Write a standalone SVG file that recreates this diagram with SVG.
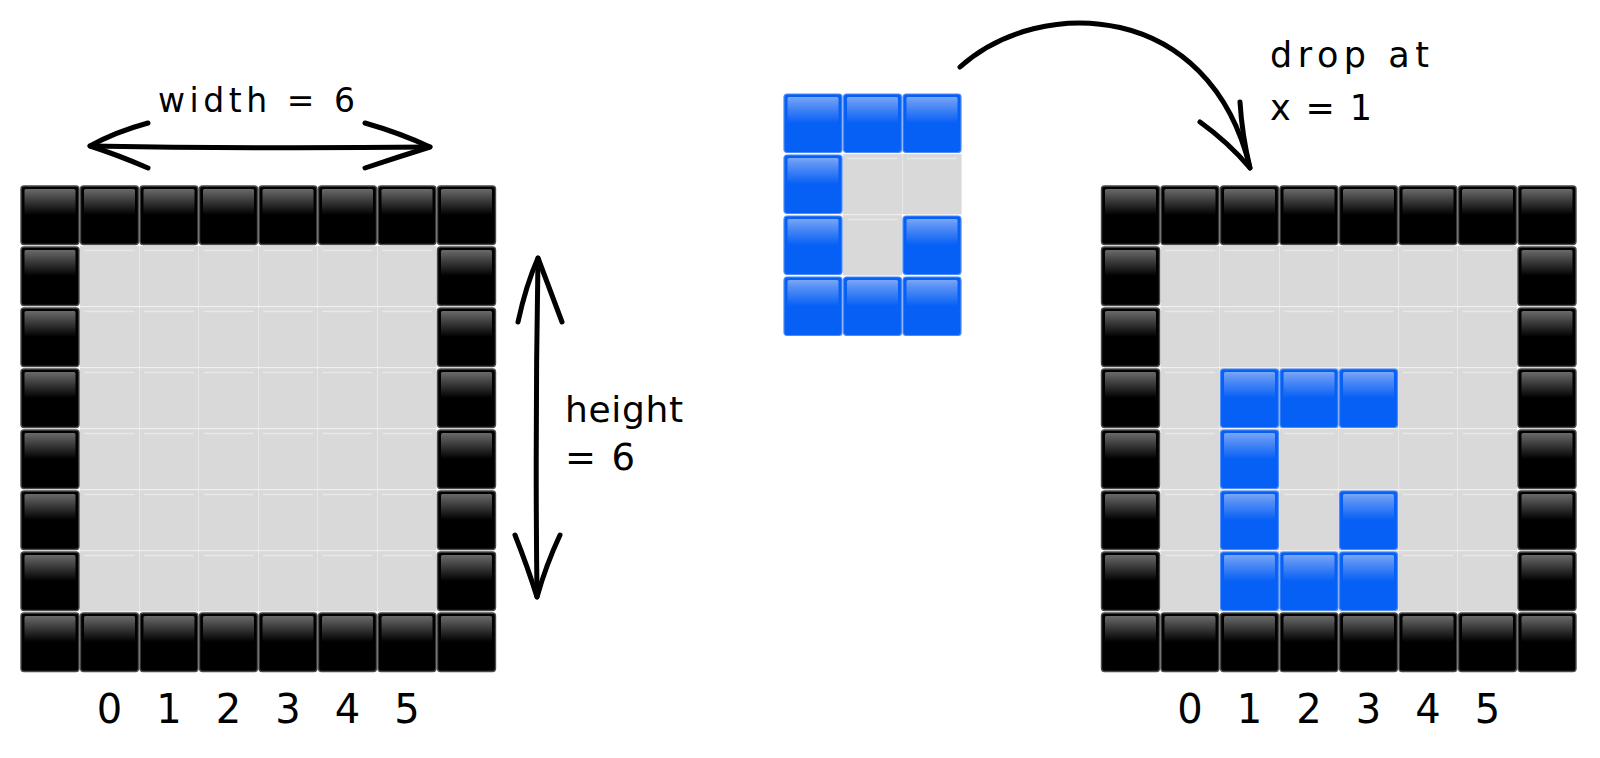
<svg xmlns="http://www.w3.org/2000/svg" xmlns:xlink="http://www.w3.org/1999/xlink" width="1600" height="758" viewBox="0 0 1600 758">
<style>
.lbl{font-family:"DejaVu Sans","Liberation Sans",sans-serif;fill:#000;}
.dig{font-family:"DejaVu Sans","Liberation Sans",sans-serif;font-size:40px;fill:#000;text-anchor:middle;}
.arr{fill:none;stroke:#000;stroke-width:5;stroke-linecap:round;stroke-linejoin:round;}
</style>
<defs>
<linearGradient id="gk" x1="0" y1="0" x2="0" y2="1">
<stop offset="0" stop-color="#6a6a6a"/><stop offset="0.2" stop-color="#555"/><stop offset="1" stop-color="#000"/>
</linearGradient>
<linearGradient id="gb" x1="0" y1="0" x2="0" y2="1">
<stop offset="0" stop-color="#7aa8f7"/><stop offset="0.2" stop-color="#5f95f6"/><stop offset="1" stop-color="#0760f5"/>
</linearGradient>
<g id="k">
<rect x="0" y="0" width="58" height="58.5" rx="3" fill="#000" stroke="#4a4a4a" stroke-width="1.4"/>
<rect x="3.5" y="3" width="51" height="26" rx="1.5" fill="url(#gk)"/>
</g>
<g id="b">
<rect x="0" y="0" width="58" height="58.5" rx="3" fill="#0760f5" stroke="#4d8cf7" stroke-width="1.2"/>
<rect x="3.5" y="3" width="51" height="26" rx="1.5" fill="url(#gb)"/>
</g>
<g id="g">
<rect x="-0.6" y="-0.9" width="59.2" height="60.3" fill="#d9d9d9"/>
<line x1="4" y1="3.5" x2="54" y2="3.5" stroke="#e8e8e8" stroke-width="1.5"/>
</g>
</defs>
<rect width="1600" height="758" fill="#fff"/>

<g id="left-grid">
<g id="left-floor">
<use href="#g" x="80.5" y="247"/><use href="#g" x="140" y="247"/><use href="#g" x="199.5" y="247"/><use href="#g" x="259" y="247"/><use href="#g" x="318.5" y="247"/><use href="#g" x="378" y="247"/>
<use href="#g" x="80.5" y="308"/><use href="#g" x="140" y="308"/><use href="#g" x="199.5" y="308"/><use href="#g" x="259" y="308"/><use href="#g" x="318.5" y="308"/><use href="#g" x="378" y="308"/>
<use href="#g" x="80.5" y="369"/><use href="#g" x="140" y="369"/><use href="#g" x="199.5" y="369"/><use href="#g" x="259" y="369"/><use href="#g" x="318.5" y="369"/><use href="#g" x="378" y="369"/>
<use href="#g" x="80.5" y="430"/><use href="#g" x="140" y="430"/><use href="#g" x="199.5" y="430"/><use href="#g" x="259" y="430"/><use href="#g" x="318.5" y="430"/><use href="#g" x="378" y="430"/>
<use href="#g" x="80.5" y="491"/><use href="#g" x="140" y="491"/><use href="#g" x="199.5" y="491"/><use href="#g" x="259" y="491"/><use href="#g" x="318.5" y="491"/><use href="#g" x="378" y="491"/>
<use href="#g" x="80.5" y="552"/><use href="#g" x="140" y="552"/><use href="#g" x="199.5" y="552"/><use href="#g" x="259" y="552"/><use href="#g" x="318.5" y="552"/><use href="#g" x="378" y="552"/>
</g>
<g id="left-walls">
<use href="#k" x="21" y="186"/><use href="#k" x="80.5" y="186"/><use href="#k" x="140" y="186"/><use href="#k" x="199.5" y="186"/><use href="#k" x="259" y="186"/><use href="#k" x="318.5" y="186"/><use href="#k" x="378" y="186"/><use href="#k" x="437.5" y="186"/>
<use href="#k" x="21" y="247"/><use href="#k" x="437.5" y="247"/>
<use href="#k" x="21" y="308"/><use href="#k" x="437.5" y="308"/>
<use href="#k" x="21" y="369"/><use href="#k" x="437.5" y="369"/>
<use href="#k" x="21" y="430"/><use href="#k" x="437.5" y="430"/>
<use href="#k" x="21" y="491"/><use href="#k" x="437.5" y="491"/>
<use href="#k" x="21" y="552"/><use href="#k" x="437.5" y="552"/>
<use href="#k" x="21" y="613"/><use href="#k" x="80.5" y="613"/><use href="#k" x="140" y="613"/><use href="#k" x="199.5" y="613"/><use href="#k" x="259" y="613"/><use href="#k" x="318.5" y="613"/><use href="#k" x="378" y="613"/><use href="#k" x="437.5" y="613"/>
</g>
</g>

<g id="piece">
<use href="#g" x="843.5" y="155"/><use href="#g" x="903" y="155"/><use href="#g" x="843.5" y="216"/>
<use href="#b" x="784" y="94"/><use href="#b" x="843.5" y="94"/><use href="#b" x="903" y="94"/>
<use href="#b" x="784" y="155"/>
<use href="#b" x="784" y="216"/><use href="#b" x="903" y="216"/>
<use href="#b" x="784" y="277"/><use href="#b" x="843.5" y="277"/><use href="#b" x="903" y="277"/>
</g>

<g id="right-grid">
<g id="right-floor">
<use href="#g" x="1161" y="247"/><use href="#g" x="1220.5" y="247"/><use href="#g" x="1280" y="247"/><use href="#g" x="1339.5" y="247"/><use href="#g" x="1399" y="247"/><use href="#g" x="1458.5" y="247"/>
<use href="#g" x="1161" y="308"/><use href="#g" x="1220.5" y="308"/><use href="#g" x="1280" y="308"/><use href="#g" x="1339.5" y="308"/><use href="#g" x="1399" y="308"/><use href="#g" x="1458.5" y="308"/>
<use href="#g" x="1161" y="369"/><use href="#g" x="1220.5" y="369"/><use href="#g" x="1280" y="369"/><use href="#g" x="1339.5" y="369"/><use href="#g" x="1399" y="369"/><use href="#g" x="1458.5" y="369"/>
<use href="#g" x="1161" y="430"/><use href="#g" x="1220.5" y="430"/><use href="#g" x="1280" y="430"/><use href="#g" x="1339.5" y="430"/><use href="#g" x="1399" y="430"/><use href="#g" x="1458.5" y="430"/>
<use href="#g" x="1161" y="491"/><use href="#g" x="1220.5" y="491"/><use href="#g" x="1280" y="491"/><use href="#g" x="1339.5" y="491"/><use href="#g" x="1399" y="491"/><use href="#g" x="1458.5" y="491"/>
<use href="#g" x="1161" y="552"/><use href="#g" x="1220.5" y="552"/><use href="#g" x="1280" y="552"/><use href="#g" x="1339.5" y="552"/><use href="#g" x="1399" y="552"/><use href="#g" x="1458.5" y="552"/>
</g>
<g id="right-walls">
<use href="#k" x="1101.5" y="186"/><use href="#k" x="1161" y="186"/><use href="#k" x="1220.5" y="186"/><use href="#k" x="1280" y="186"/><use href="#k" x="1339.5" y="186"/><use href="#k" x="1399" y="186"/><use href="#k" x="1458.5" y="186"/><use href="#k" x="1518" y="186"/>
<use href="#k" x="1101.5" y="247"/><use href="#k" x="1518" y="247"/>
<use href="#k" x="1101.5" y="308"/><use href="#k" x="1518" y="308"/>
<use href="#k" x="1101.5" y="369"/><use href="#k" x="1518" y="369"/>
<use href="#k" x="1101.5" y="430"/><use href="#k" x="1518" y="430"/>
<use href="#k" x="1101.5" y="491"/><use href="#k" x="1518" y="491"/>
<use href="#k" x="1101.5" y="552"/><use href="#k" x="1518" y="552"/>
<use href="#k" x="1101.5" y="613"/><use href="#k" x="1161" y="613"/><use href="#k" x="1220.5" y="613"/><use href="#k" x="1280" y="613"/><use href="#k" x="1339.5" y="613"/><use href="#k" x="1399" y="613"/><use href="#k" x="1458.5" y="613"/><use href="#k" x="1518" y="613"/>
</g>
<g id="dropped-piece">
<use href="#b" x="1220.5" y="369"/><use href="#b" x="1280" y="369"/><use href="#b" x="1339.5" y="369"/>
<use href="#b" x="1220.5" y="430"/>
<use href="#b" x="1220.5" y="491"/><use href="#b" x="1339.5" y="491"/>
<use href="#b" x="1220.5" y="552"/><use href="#b" x="1280" y="552"/><use href="#b" x="1339.5" y="552"/>
</g>
</g>

<g id="connectors">
<path class="arr" d="M90,146 Q260,149 430,147"/>
<path class="arr" d="M148,123 Q115,132 90,146 Q118,155 148,168"/>
<path class="arr" d="M365,123 Q400,133 430,147 Q398,157 365,168"/>
<path class="arr" d="M538,258 Q535,430 537,597"/>
<path class="arr" d="M518,322 Q526,285 538,258 Q550,290 562,322"/>
<path class="arr" d="M515,535 Q528,568 537,597 Q546,565 560,535"/>
<path class="arr" d="M960,67 C1040,-5 1210,0 1250,168" stroke-width="6"/>
<path class="arr" d="M1200,122 Q1228,142 1250,168 Q1242,135 1240,102"/>
</g>

<g id="labels">
<text class="lbl" x="158" y="112" font-size="33" textLength="197" lengthAdjust="spacing">width = 6</text>
<text class="lbl" x="565" y="422" font-size="36" textLength="118" lengthAdjust="spacing">height</text>
<text class="lbl" x="565" y="470" font-size="37" textLength="70" lengthAdjust="spacing">= 6</text>
<text class="lbl" x="1270" y="67" font-size="35" textLength="159" lengthAdjust="spacing">drop at</text>
<text class="lbl" x="1270" y="120" font-size="35" textLength="102" lengthAdjust="spacing">x = 1</text>
</g>

<g id="left-indices">
<text class="dig" x="109.5" y="723">0</text><text class="dig" x="169" y="723">1</text><text class="dig" x="228.5" y="723">2</text><text class="dig" x="288" y="723">3</text><text class="dig" x="347.5" y="723">4</text><text class="dig" x="407" y="723">5</text>
</g>
<g id="right-indices">
<text class="dig" x="1190" y="723">0</text><text class="dig" x="1249.5" y="723">1</text><text class="dig" x="1309" y="723">2</text><text class="dig" x="1368.5" y="723">3</text><text class="dig" x="1428" y="723">4</text><text class="dig" x="1487.5" y="723">5</text>
</g>
</svg>
